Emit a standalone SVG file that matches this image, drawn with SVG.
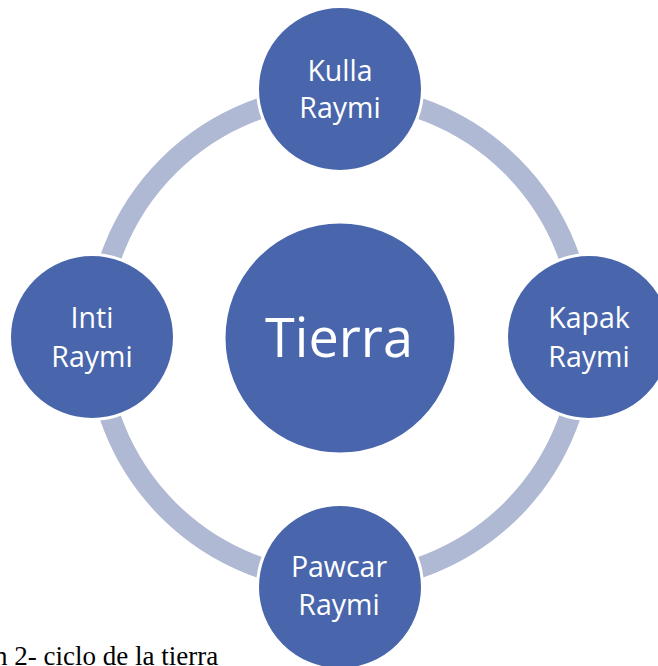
<svg xmlns="http://www.w3.org/2000/svg" width="658" height="666" viewBox="0 0 658 666">
<style>
.ring{fill:none;stroke:#B0B9D4;stroke-width:21}
.node{fill:#4966AC;stroke:#FFFFFF;stroke-width:3}
.lbl{fill:#FFFFFF;font-family:"Open Sans","Noto Sans",sans-serif;font-size:28.5px;text-anchor:middle}
.big{fill:#FFFFFF;font-family:"Open Sans","Noto Sans",sans-serif;font-size:54px;text-anchor:middle}
.cap{fill:#000000;font-family:"Liberation Serif","Times New Roman",serif;font-size:27px}
</style>
<rect width="658" height="666" fill="#FFFFFF"/>
<g id="connectors">
<path class="ring" d="M340,95 A243,243 0 0 1 583,338"/>
<path class="ring" d="M583,338 A243,243 0 0 1 340,581"/>
<path class="ring" d="M340,581 A243,243 0 0 1 97,338"/>
<path class="ring" d="M97,338 A243,243 0 0 1 340,95"/>
</g>
<g id="tierra">
<circle class="node" cx="340" cy="338" r="116"/>
<text class="big" x="339" y="357">Tierra</text>
</g>
<g id="kulla">
<circle class="node" cx="340" cy="89" r="82.5"/>
<text class="lbl" x="340" y="81">Kulla</text>
<text class="lbl" x="340" y="118">Raymi</text>
</g>
<g id="kapak">
<circle class="node" cx="589" cy="337" r="82.5"/>
<text class="lbl" x="589" y="328">Kapak</text>
<text class="lbl" x="589" y="367">Raymi</text>
</g>
<g id="pawcar">
<circle class="node" cx="340" cy="587" r="82.5"/>
<text class="lbl" x="339" y="577">Pawcar</text>
<text class="lbl" x="339" y="615">Raymi</text>
</g>
<g id="inti">
<circle class="node" cx="92" cy="337" r="82.5"/>
<text class="lbl" x="92" y="328">Inti</text>
<text class="lbl" x="92" y="367">Raymi</text>
</g>
<text class="cap" x="-6" y="665">n 2- ciclo de la tierra</text>
</svg>
